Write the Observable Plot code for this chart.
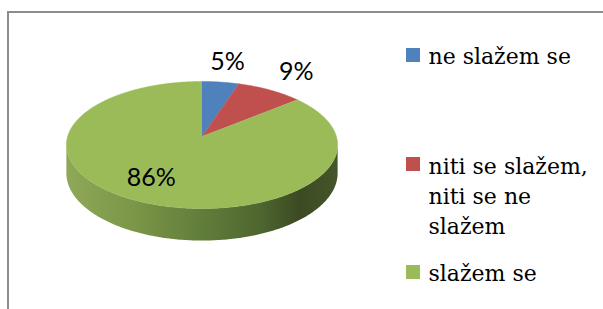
<!DOCTYPE html>
<html><head><meta charset="utf-8">
<script src="https://cdn.jsdelivr.net/npm/d3@7"></script>
<script src="https://cdn.jsdelivr.net/npm/@observablehq/plot@0.6"></script>
<style>
html,body{margin:0;padding:0;background:#fff;}
#wrap{position:relative;width:603px;height:309px;overflow:hidden;background:#fff;}
#frame{position:absolute;left:7px;top:11px;width:700px;height:400px;border-left:2px solid #8d8d8d;border-top:2px solid #8d8d8d;}
#chart{position:absolute;left:0;top:0;}
</style></head><body>
<div id="wrap"><div id="frame"></div><div id="chart"></div></div>
<script>
// ---- data ----
const categories = ["ne slažem se", "niti se slažem, niti se ne slažem", "slažem se"];
const values = [5, 9, 86];
const valueLabels = ["5%", "9%", "86%"];
const legendLabels = ["ne slažem se", "niti se slažem,\nniti se ne\nslažem", "slažem se"];
const colors = ["#4f81bd", "#c0504d", "#9bbb59"];

// ---- layout ----
const W = 603, H = 309;
const pie3d = {cx: 201.5, cy: 136, rx: 134.4, ry: 62.4, depth: 27.7, persp: 0.134};
const labelLayout = {outsideR: 1.45, insideR: 0.8, insideDy: -9};
const legend = {swatchX: 406, swatchSize: 14, textX: 428, swatchTops: [48, 157, 265], lastBaselines: [63, 233, 280], lineHeight: 30, fontSize: 22};

function proj(X, Y, Z = 0) {
  const d = 1 + pie3d.persp * Y;
  return [pie3d.cx + pie3d.rx * X / d, pie3d.cy + (-pie3d.ry * Y + pie3d.depth * Z) / d];
}

const arcs = d3.pie().sort(null).value(d => d)(values);

// top-face slices
const slicePts = [];
arcs.forEach((a, i) => {
  const [ax, ay] = proj(0, 0);
  slicePts.push({cat: categories[i], x: ax, y: ay});
  const n = Math.max(4, Math.ceil((a.endAngle - a.startAngle) / 0.01));
  for (let k = 0; k <= n; ++k) {
    const t = a.startAngle + (a.endAngle - a.startAngle) * k / n;
    const [x, y] = proj(Math.sin(t), Math.cos(t));
    slicePts.push({cat: categories[i], x, y});
  }
});

// visible front side (between silhouette points)
const tc = Math.acos(-pie3d.persp);
const sidePts = [];
const ns = 200;
for (let k = 0; k <= ns; ++k) {
  const t = tc + (2 * Math.PI - 2 * tc) * k / ns;
  const [x, y] = proj(Math.sin(t), Math.cos(t), 0);
  sidePts.push({x, y});
}
for (let k = ns; k >= 0; --k) {
  const t = tc + (2 * Math.PI - 2 * tc) * k / ns;
  const [x, y] = proj(Math.sin(t), Math.cos(t), 1);
  sidePts.push({x, y});
}

// value labels
const labelRows = arcs.map((a, i) => {
  const mid = (a.startAngle + a.endAngle) / 2;
  const inside = (a.endAngle - a.startAngle) > 1;
  const r = inside ? labelLayout.insideR : labelLayout.outsideR;
  const [x, y] = proj(r * Math.sin(mid), r * Math.cos(mid));
  return {x, y: y + (inside ? labelLayout.insideDy : 0), text: valueLabels[i]};
});

// legend
const legendRows = categories.map((c, i) => ({
  cat: c,
  label: legendLabels[i],
  x1: legend.swatchX, x2: legend.swatchX + legend.swatchSize,
  y1: legend.swatchTops[i], y2: legend.swatchTops[i] + legend.swatchSize,
  tx: legend.textX, ty: legend.lastBaselines[i]
}));

const defsMark = () => {
  const g = d3.create("svg:g");
  const grad = g.append("defs").append("linearGradient")
    .attr("id", "sideGrad").attr("x1", 0).attr("x2", 1).attr("y1", 0).attr("y2", 0);
  [[0, "#8fa858"], [0.25, "#7b9647"], [0.5, "#617d3a"], [0.72, "#4e652f"], [0.86, "#3c4a22"], [1, "#45562a"]]
    .forEach(([o, c]) => grad.append("stop").attr("offset", o).attr("stop-color", c));
  return g.node();
};

const chart = Plot.plot({
  width: W, height: H, margin: 0,
  x: {domain: [0, W], range: [0, W], axis: null},
  y: {domain: [0, H], range: [0, H], axis: null},
  color: {domain: categories, range: colors},
  style: {background: "transparent", overflow: "visible"},
  marks: [
    defsMark,
    Plot.line(sidePts, {x: "x", y: "y", fill: "url(#sideGrad)", stroke: "none"}),
    Plot.line(slicePts, {x: "x", y: "y", z: "cat", fill: "cat", stroke: "cat", strokeWidth: 0.5}),
    Plot.text(labelRows, {x: "x", y: "y", text: "text", fontFamily: "Lato", fontSize: 25, fill: "#000", lineAnchor: "middle"}),
    Plot.rect(legendRows, {x1: "x1", x2: "x2", y1: "y1", y2: "y2", fill: "cat"}),
    Plot.text(legendRows, {x: "tx", y: "ty", text: "label", textAnchor: "start", lineAnchor: "bottom",
      lineHeight: legend.lineHeight / legend.fontSize, fontFamily: "DejaVu Serif", fontSize: legend.fontSize, fill: "#000"})
  ]
});
document.getElementById("chart").appendChild(chart);
</script>
</body></html>
